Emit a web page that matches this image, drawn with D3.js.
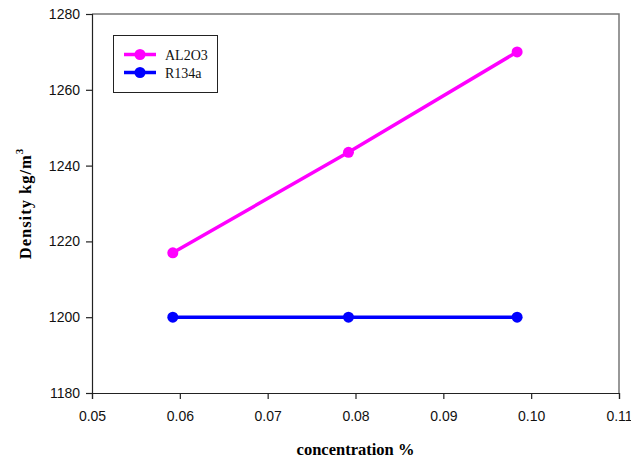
<!DOCTYPE html>
<html><head><meta charset="utf-8">
<script src="https://cdn.jsdelivr.net/npm/d3@7"></script>
<style>body{margin:0;background:#fff}</style>
</head><body>
<script>
const concentration = [0.0592, 0.0792, 0.0984];
const al2o3 = [1217, 1243.5, 1270];
const r134a = [1200, 1200, 1200];
const xTicks = [0.05, 0.06, 0.07, 0.08, 0.09, 0.10, 0.11];
const yTicks = [1180, 1200, 1220, 1240, 1260, 1280];
const seriesNames = ["AL2O3", "R134a"];
const seriesColors = ["#ff00ff", "#0000ff"];

const W = 631, H = 460;
const m = {left: 92, top: 14, right: 12, bottom: 67};
const svg = d3.select("body").append("svg").attr("width", W).attr("height", H);
const x = d3.scaleLinear().domain([0.05, 0.11]).range([m.left, W - m.right]);
const y = d3.scaleLinear().domain([1180, 1280]).range([H - m.bottom, m.top]);

// frame top/right
svg.append("path")
  .attr("d", `M${x(0.05)},${y(1280)}H${x(0.11)}V${y(1180)}`)
  .attr("fill", "none").attr("stroke", "#777").attr("stroke-width", 1.5);

const xAxis = svg.append("g").attr("transform", `translate(0,${y(1180)})`)
  .call(d3.axisBottom(x).tickValues(xTicks).tickFormat(d3.format(".2f")).tickSize(6).tickPadding(12));
const yAxis = svg.append("g").attr("transform", `translate(${x(0.05)},0)`)
  .call(d3.axisLeft(y).tickValues(yTicks).tickFormat(d3.format("d")).tickSize(6).tickPadding(6));
[xAxis, yAxis].forEach(g => {
  g.selectAll("path,line").attr("stroke", "#222").attr("stroke-width", 1.2);
  g.selectAll("text").attr("font-family", "Liberation Sans, Arial, sans-serif").attr("font-size", 14).attr("fill", "#111");
});

const series = [al2o3, r134a];
const line = d3.line().x((d, i) => x(concentration[i])).y(d => y(d));
series.forEach((s, k) => {
  svg.append("path").datum(s).attr("d", line)
    .attr("fill", "none").attr("stroke", seriesColors[k]).attr("stroke-width", 3.5);
  svg.append("g").selectAll("circle").data(s).join("circle")
    .attr("cx", (d, i) => x(concentration[i])).attr("cy", d => y(d))
    .attr("r", 5.5).attr("fill", seriesColors[k]);
});

// legend
const lg = svg.append("g");
lg.append("rect").attr("x", 113.5).attr("y", 35.5).attr("width", 104).attr("height", 57)
  .attr("fill", "#fff").attr("stroke", "#222").attr("stroke-width", 1);
seriesNames.forEach((n, k) => {
  const yy = 54.5 + k * 18;
  lg.append("line").attr("x1", 124).attr("x2", 156).attr("y1", yy).attr("y2", yy)
    .attr("stroke", seriesColors[k]).attr("stroke-width", 3.5);
  lg.append("circle").attr("cx", 140).attr("cy", yy).attr("r", 5.5).attr("fill", seriesColors[k]);
  lg.append("text").attr("x", 165).attr("y", yy + 5).text(n)
    .attr("font-family", "Liberation Serif, Times New Roman, serif").attr("font-size", 14).attr("fill", "#111");
});

// axis titles
svg.append("text").attr("x", (x(0.05) + x(0.11)) / 2).attr("y", 455)
  .attr("text-anchor", "middle").attr("font-family", "Liberation Serif, Times New Roman, serif")
  .attr("font-weight", "bold").attr("font-size", 16.5).text("concentration %");
const yt = svg.append("text").attr("transform", `translate(31,${(y(1180) + y(1280)) / 2}) rotate(-90)`)
  .attr("text-anchor", "middle").attr("font-family", "Liberation Serif, Times New Roman, serif")
  .attr("font-weight", "bold").attr("font-size", 16.5).attr("letter-spacing", 1);
yt.append("tspan").text("Density kg/m");
yt.append("tspan").attr("dy", -8).attr("font-size", 11).text("3");
</script>
</body></html>
